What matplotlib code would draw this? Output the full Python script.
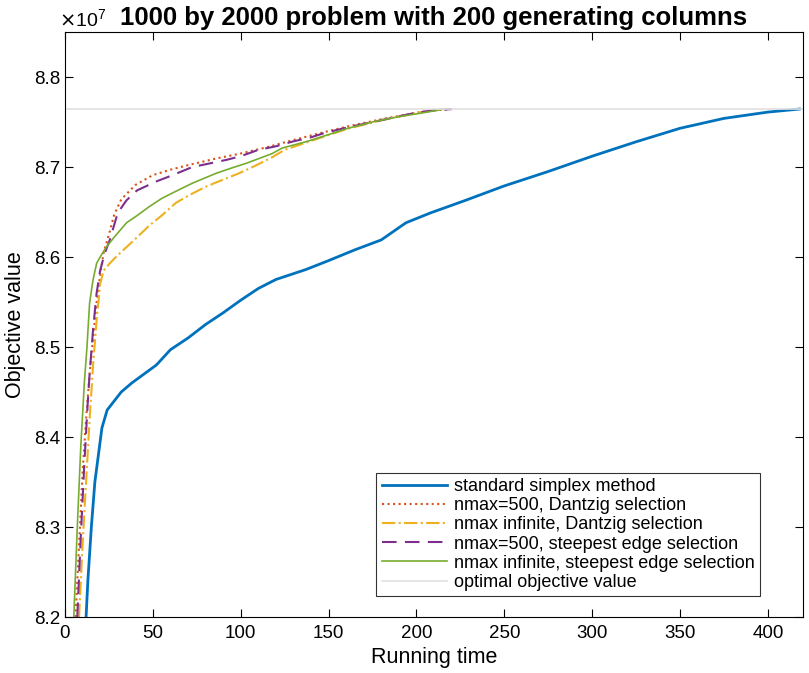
import numpy as np
import matplotlib
matplotlib.use('Agg')
import matplotlib.pyplot as plt

plt.rcParams['font.family'] = ['Liberation Sans', 'DejaVu Sans']

# Objective values are in units of 1e7
optimal_value = 8.7644

# standard simplex method
std_time = [12, 13, 15, 17, 19, 21, 24, 28, 32, 38, 45, 52, 60, 70, 80, 90, 100,
            110, 120, 137, 150, 165, 180, 194, 208, 228, 250, 275, 300, 325, 350,
            375, 400, 418]
std_obj = [8.20, 8.24, 8.30, 8.35, 8.38, 8.41, 8.43, 8.44, 8.45, 8.46, 8.47, 8.48,
           8.497, 8.51, 8.525, 8.538, 8.552, 8.565, 8.575, 8.586, 8.596, 8.608,
           8.619, 8.638, 8.649, 8.663, 8.679, 8.695, 8.712, 8.728, 8.743, 8.754,
           8.761, 8.7644]

# nmax=500, Dantzig selection
d500_time = [6, 8, 10, 12, 14, 16, 18, 20, 22, 25, 28, 32, 40, 50, 60, 72, 85, 100,
             115, 130, 148, 163, 180, 199, 210, 220]
d500_obj = [8.20, 8.28, 8.36, 8.42, 8.47, 8.51, 8.55, 8.58, 8.605, 8.625, 8.647,
            8.664, 8.68, 8.691, 8.697, 8.703, 8.709, 8.715, 8.722, 8.73, 8.739,
            8.746, 8.753, 8.76, 8.763, 8.7644]

# nmax infinite, Dantzig selection
dinf_time = [8, 10, 12, 14, 16, 18, 20, 22, 25.5, 30, 35, 40, 48, 55, 63, 70, 80,
             90, 99, 110, 118, 125, 140, 160, 180, 200, 215]
dinf_obj = [8.20, 8.28, 8.35, 8.42, 8.48, 8.53, 8.57, 8.585, 8.593, 8.602, 8.611,
            8.62, 8.635, 8.646, 8.66, 8.668, 8.678, 8.686, 8.693, 8.703, 8.711,
            8.719, 8.729, 8.742, 8.752, 8.76, 8.7644]

# nmax=500, steepest edge selection
s500_time = [7, 9, 11, 13, 14, 16, 18, 20, 22.6, 25.5, 30, 35, 41, 52, 60, 72.5,
             80, 92, 100, 110, 120, 129, 140, 148, 163, 180, 199, 210, 220]
s500_obj = [8.20, 8.29, 8.37, 8.44, 8.47, 8.52, 8.56, 8.585, 8.604, 8.619, 8.649,
            8.663, 8.674, 8.684, 8.69, 8.70, 8.703, 8.708, 8.712, 8.719, 8.723,
            8.728, 8.733, 8.738, 8.745, 8.752, 8.76, 8.763, 8.7644]

# nmax infinite, steepest edge selection
sinf_time = [5, 7, 9, 11, 12.5, 14, 16, 18, 20, 23.5, 28, 35, 41, 48, 55, 61, 72.5,
             86, 95, 103, 118, 123.5, 137, 150, 161, 175, 190, 200, 212, 215]
sinf_obj = [8.20, 8.30, 8.39, 8.46, 8.50, 8.549, 8.575, 8.593, 8.60, 8.611, 8.622,
            8.638, 8.646, 8.656, 8.665, 8.671, 8.682, 8.693, 8.699, 8.704, 8.715,
            8.721, 8.728, 8.736, 8.743, 8.75, 8.756, 8.759, 8.763, 8.7644]

fig = plt.figure(figsize=(8.09, 6.73), dpi=100)
ax = fig.add_axes([65 / 809, 56 / 673, 738 / 809, 585 / 673])

ax.plot(std_time, std_obj, '-', color='#0072BD', linewidth=2.0,
        label='standard simplex method')
ax.plot(d500_time, d500_obj, ':', color='#D95319', linewidth=1.5,
        label='nmax=500, Dantzig selection')
ax.plot(dinf_time, dinf_obj, '-.', color='#EDB120', linewidth=1.5,
        label='nmax infinite, Dantzig selection')
ax.plot(s500_time, s500_obj, '--', color='#7E2F8E', linewidth=1.5,
        dashes=(7, 4), label='nmax=500, steepest edge selection')
ax.plot(sinf_time, sinf_obj, '-', color='#77AC30', linewidth=1.2,
        label='nmax infinite, steepest edge selection')
ax.axhline(optimal_value, color='#E0E0E0', linewidth=1.2,
           label='optimal objective value')

ax.set_xlim(0, 420)
ax.set_ylim(8.2, 8.85)
ax.set_xticks(np.arange(0, 401, 50))
ax.set_yticks(np.arange(8.2, 8.81, 0.1))
ax.set_yticklabels(['%.1f' % v for v in np.arange(8.2, 8.81, 0.1)])
ax.tick_params(direction='in', top=True, right=True, labelsize=13.5,
               length=6, width=0.8)
ax.tick_params(axis='x', pad=6)
for s in ax.spines.values():
    s.set_linewidth(0.8)

ax.set_xlabel('Running time', fontsize=15.5, labelpad=3)
ax.set_ylabel('Objective value', fontsize=15.5, labelpad=6)
ax.set_title('1000 by 2000 problem with 200 generating columns',
             fontsize=18.5, fontweight='bold', pad=5)
ax.text(-0.008, 1.004, r'$\times\mathregular{10^7}$', transform=ax.transAxes,
        fontsize=14, ha='left', va='bottom')

leg = ax.legend(loc='lower right', bbox_to_anchor=(0.949, 0.026), fontsize=13,
                frameon=True, fancybox=False, edgecolor='black',
                borderpad=0.3, labelspacing=0.12, handlelength=3.6,
                handletextpad=0.4, borderaxespad=0.3)
leg.get_frame().set_linewidth(0.8)

fig.savefig('out.png', dpi=100)
